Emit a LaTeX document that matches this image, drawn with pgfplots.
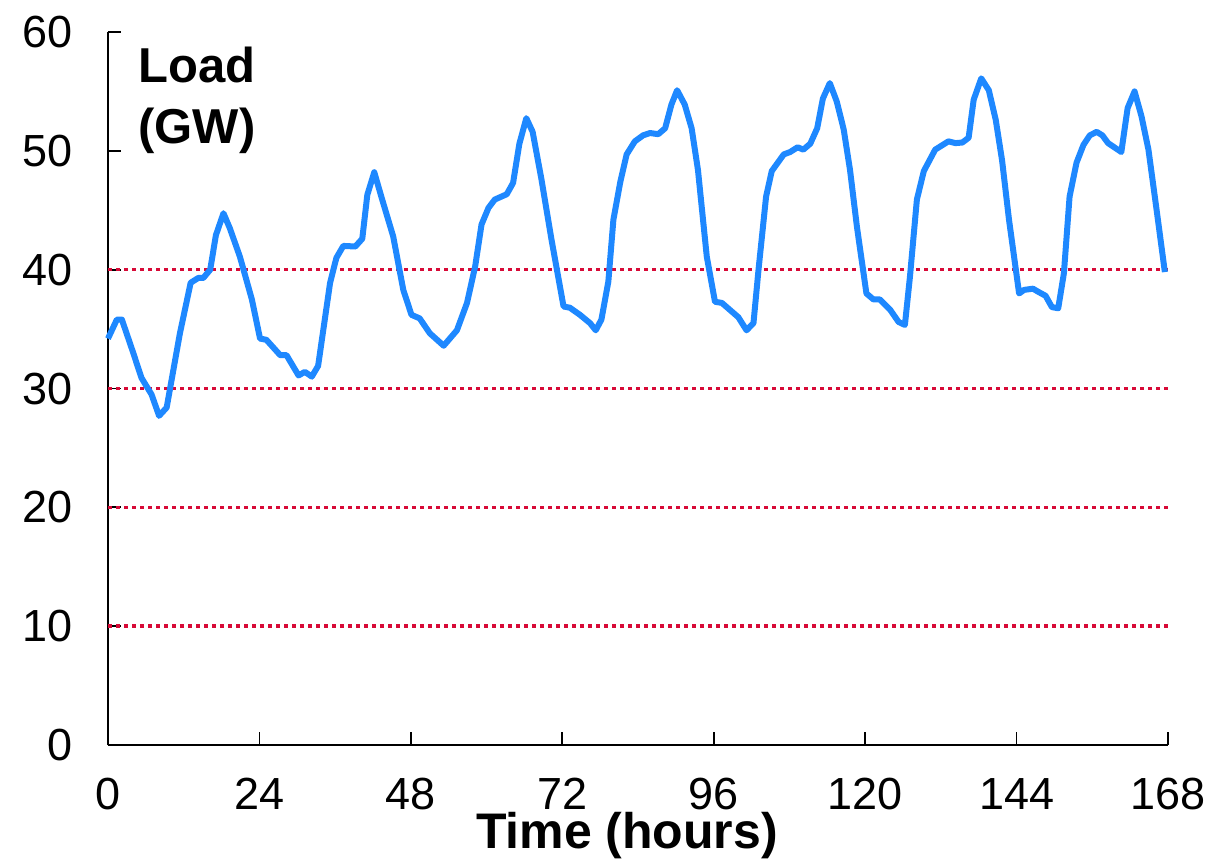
\documentclass[border=0pt]{standalone}
\usepackage{fontspec}
\setmainfont{Liberation Sans}
\usepackage{pgfplots}
\pgfplotsset{compat=1.18}
\definecolor{loadblue}{RGB}{30,136,255}
\definecolor{gridred}{RGB}{215,10,55}
\begin{document}
\begin{tikzpicture}
\begin{axis}[
  name=ax, at={(0,0)}, anchor=south west,
  scale only axis, width=530pt, height=356.5pt,
  xmin=0, xmax=168, ymin=0, ymax=60,
  axis x line*=bottom, axis y line*=left,
  axis line style={line width=0.9pt, black},
  xtick={0,24,48,72,96,120,144,168},
  ytick={0,10,20,30,40,50,60},
  tick align=inside,
  major tick length=6.5pt,
  tick style={line width=0.9pt, black},
  /pgf/number format/assume math mode=true,
  ticklabel style={font=\fontsize{22.5}{27}\selectfont},
  xticklabel style={yshift=-13pt},
  yticklabel style={xshift=-14pt},
  xlabel={Time (hours)},
  xlabel style={font=\fontsize{25}{30}\selectfont\bfseries, at={(axis description cs:0.4896,0)}, anchor=base, yshift=-51.5pt, inner sep=0pt},
  clip=false,
]
\addplot[gridred, line width=1.7pt, dash pattern=on 2pt off 2pt, forget plot] coordinates {(0,10)(168,10)};
\addplot[gridred, line width=1.7pt, dash pattern=on 2pt off 2pt, forget plot] coordinates {(0,20)(168,20)};
\addplot[gridred, line width=1.7pt, dash pattern=on 2pt off 2pt, forget plot] coordinates {(0,30)(168,30)};
\addplot[gridred, line width=1.7pt, dash pattern=on 2pt off 2pt, forget plot] coordinates {(0,40)(168,40)};
\addplot[loadblue, line width=3pt, line join=round, no marks] coordinates {
(0,34.2)(1.4,35.8)(2.2,35.8)(4.0,33.0)(5.3,30.9)(6.9,29.5)(8.1,27.7)(9.3,28.4)(11.4,34.65)(13.1,38.9)(14.3,39.3)(15.1,39.3)(16.2,40.0)(17.1,42.9)(18.3,44.75)(19.3,43.5)(20.9,41.1)(22.8,37.5)(24.1,34.2)(25.1,34.1)(27.3,32.8)(28.3,32.8)(30.2,31.1)(31.2,31.4)(32.3,31.0)(33.3,31.9)(35.2,38.9)(36.2,41.0)(37.3,42.0)(39.2,41.95)(40.3,42.6)(41.1,46.3)(42.2,48.2)(43.4,46.0)(45.2,42.8)(46.8,38.3)(48.1,36.2)(49.4,35.9)(51.0,34.65)(53.2,33.6)(55.3,34.9)(56.9,37.2)(58.2,40.3)(59.2,43.8)(60.3,45.2)(61.3,45.9)(63.2,46.35)(64.2,47.3)(65.2,50.6)(66.3,52.75)(67.3,51.6)(68.7,47.6)(70.3,42.5)(72.2,36.9)(73.2,36.8)(74.8,36.2)(76.4,35.5)(77.3,34.9)(78.2,35.8)(79.3,39.0)(80.1,44.2)(81.2,47.4)(82.2,49.7)(83.5,50.8)(84.8,51.3)(85.9,51.5)(87.2,51.4)(88.3,51.9)(89.3,53.9)(90.2,55.1)(91.4,53.9)(92.5,51.9)(93.5,48.4)(94.9,41.1)(96.2,37.3)(97.3,37.2)(98.6,36.6)(99.9,36.0)(101.2,34.9)(102.3,35.5)(103.1,40.0)(104.3,46.15)(105.2,48.3)(107.1,49.7)(108.1,49.9)(109.3,50.3)(110.2,50.1)(111.3,50.6)(112.4,51.9)(113.3,54.4)(114.4,55.7)(115.5,54.15)(116.6,51.8)(117.6,48.4)(118.7,43.6)(120.2,38.0)(121.3,37.5)(122.3,37.5)(124.0,36.6)(125.3,35.6)(126.3,35.35)(127.1,39.4)(128.2,45.9)(129.3,48.3)(131.1,50.1)(133.2,50.8)(134.3,50.65)(135.4,50.7)(136.4,51.1)(137.2,54.3)(138.4,56.1)(139.6,55.1)(140.7,52.6)(141.7,49.2)(142.8,44.2)(144.4,38.0)(145.2,38.3)(146.6,38.4)(147.4,38.15)(148.6,37.8)(149.6,36.85)(150.6,36.75)(151.5,39.7)(152.4,46.15)(153.5,49.0)(154.6,50.5)(155.6,51.3)(156.7,51.6)(157.6,51.3)(158.5,50.65)(160.6,49.9)(161.6,53.6)(162.7,55.0)(163.8,52.9)(164.9,50.1)(166.2,45.0)(167.5,39.8)
};
\node[anchor=north west, inner sep=0pt, align=left, font=\fontsize{24.5}{30.5}\selectfont\bfseries, xshift=15pt, yshift=-7.5pt] at (rel axis cs:0,1) {Load\\(GW)};
\end{axis}
\pgfresetboundingbox
\path[use as bounding box] (-54pt,-57pt) rectangle (553pt,372.5pt);
\end{tikzpicture}
\end{document}
